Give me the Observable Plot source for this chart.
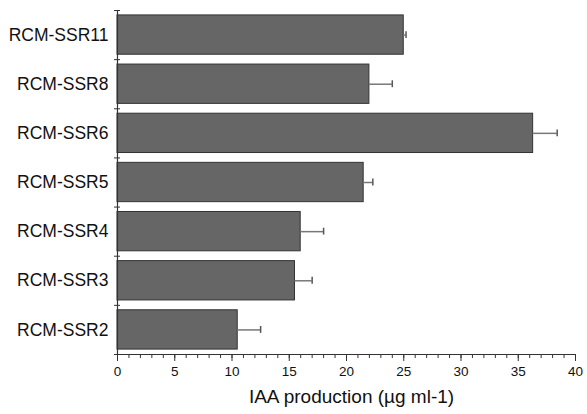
<!DOCTYPE html>
<html>
<head>
<meta charset="utf-8">
<script src="https://cdn.jsdelivr.net/npm/d3@7"></script>
<script src="https://cdn.jsdelivr.net/npm/@observablehq/plot@0.6"></script>
<style>
  html, body { margin: 0; padding: 0; background: #fff; }
  svg { font-family: "Liberation Sans", Arial, sans-serif; }
</style>
</head>
<body>
<div id="chart"></div>
<script>
// top to bottom
const categories = ["RCM-SSR11", "RCM-SSR8", "RCM-SSR6", "RCM-SSR5", "RCM-SSR4", "RCM-SSR3", "RCM-SSR2"];
const values = [25.0, 22.0, 36.3, 21.5, 16.0, 15.5, 10.5];
const errors = [0.2, 2.0, 2.1, 0.8, 2.0, 1.5, 2.0];
const xTicks = [0, 5, 10, 15, 20, 25, 30, 35, 40];
const xLabel = "IAA production (µg ml-1)";

const data = categories.map((c, i) => ({cat: c, idx: i, value: values[i], err: errors[i]}));
const n = categories.length;

const chart = Plot.plot({
  width: 587,
  height: 414,
  marginLeft: 117,
  marginRight: 12,
  marginTop: 10,
  marginBottom: 60,
  style: {fontFamily: "Liberation Sans, Arial, sans-serif", background: "#fff"},
  x: {domain: [0, 40]},
  y: {domain: [0, n], reverse: true},
  marks: [
    Plot.rect(data, {x1: 0, x2: "value", y1: d => d.idx + 0.1, y2: d => d.idx + 0.9, inset: 0, fill: "#666666", stroke: "#333", strokeWidth: 1}),
    Plot.ruleY(data, {y: d => d.idx + 0.5, x1: "value", x2: d => d.value + d.err, stroke: "#777", strokeWidth: 1.5}),
    Plot.ruleX(data, {x: d => d.value + d.err, y1: d => d.idx + 0.43, y2: d => d.idx + 0.57, stroke: "#555", strokeWidth: 1.5}),
    // axis lines
    Plot.ruleX([0], {y1: 0, y2: n, stroke: "#333", strokeWidth: 1.2}),
    Plot.ruleY([n], {x1: -0.25, x2: 40, stroke: "#333", strokeWidth: 1.2}),
    // y boundary ticks
    Plot.axisY(d3.range(0, n + 1), {tickSize: 6, dx: 3, text: null, stroke: "#333", label: null}),
    // y labels
    Plot.axisY(d3.range(0, n).map(i => i + 0.5), {tickSize: 0, tickPadding: 9, tickFormat: v => categories[Math.floor(v)], fontSize: 17.5, fill: "#111", label: null}),
    // minor x ticks
    Plot.axisX(d3.range(0, 41, 1), {tickSize: 4, text: null, stroke: "#333", label: null}),
    // major x ticks
    Plot.axisX(xTicks, {tickSize: 7, tickPadding: 5, fontSize: 13.5, fill: "#111", stroke: "#333", label: null}),
    Plot.text([xLabel], {frameAnchor: "bottom", dy: 48, dx: 5, fontSize: 19, fill: "#111"})
  ]
});
document.getElementById("chart").appendChild(chart);
</script>
</body>
</html>
